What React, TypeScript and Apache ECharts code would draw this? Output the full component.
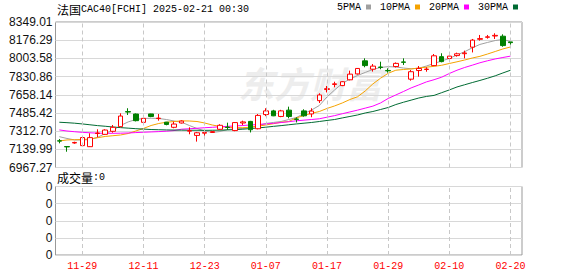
import React, { useEffect, useRef } from 'react';
import * as echarts from 'echarts';

const dates = ['11-26','11-27','11-28','11-29','12-02','12-03','12-04','12-05','12-06','12-09','12-10','12-11','12-12','12-13','12-16','12-17','12-18','12-19','12-20','12-23','12-24','12-27','12-30','12-31','01-02','01-03','01-06','01-07','01-08','01-09','01-10','01-13','01-14','01-15','01-16','01-17','01-20','01-21','01-22','01-23','01-24','01-27','01-28','01-29','01-30','01-31','02-03','02-04','02-05','02-06','02-07','02-10','02-11','02-12','02-13','02-14','02-17','02-18','02-19','02-20','02-21'];
const tickDates = ['11-29','12-11','12-23','01-07','01-17','01-29','02-10','02-20'];
const priceTicks = ['6967.27','7139.99','7312.70','7485.42','7658.14','7830.86','8003.58','8176.29','8349.01'];
const volTicks = ['0','0','0','0','0'];

// [open, close, low, high]
const candles = [
  [7221,7218,7197,7238],[7166,7163,7117,7166],[7200,7205,7193,7212],[7175,7252,7170,7262],
  [7165,7251,7162,7292],[7290,7295,7254,7330],[7282,7323,7278,7330],[7311,7349,7298,7371],
  [7355,7456,7352,7482],[7498,7494,7466,7530],[7475,7412,7405,7480],[7396,7434,7387,7466],
  [7476,7452,7445,7478],[7432,7436,7412,7475],[7398,7376,7368,7400],[7349,7380,7340,7402],
  [7390,7408,7385,7415],[7312,7318,7283,7349],[7272,7297,7213,7305],[7293,7300,7262,7305],
  [7300,7308,7296,7312],[7330,7368,7325,7378],[7351,7347,7324,7393],[7318,7394,7312,7398],
  [7390,7400,7370,7412],[7405,7326,7300,7410],[7335,7462,7330,7475],[7470,7505,7455,7530],
  [7505,7458,7455,7515],[7452,7505,7445,7515],[7512,7452,7434,7545],[7428,7424,7395,7444],
  [7505,7458,7450,7520],[7476,7503,7445,7530],[7602,7656,7580,7672],[7708,7716,7680,7741],
  [7756,7762,7729,7782],[7745,7782,7740,7786],[7800,7854,7795,7887],[7856,7908,7850,7912],
  [7980,7935,7919,8004],[7901,7930,7878,7950],[7921,7918,7900,7972],[7889,7885,7868,7909],
  [7926,7956,7917,7965],[7970,7966,7941,8004],[7806,7877,7792,7893],[7888,7908,7830,7931],
  [7898,7902,7877,7919],[7935,8028,7932,8045],[8020,7973,7966,8052],[8002,8025,7998,8030],
  [8030,8047,8020,8058],[8048,8055,8004,8077],[8110,8177,8060,8188],[8185,8191,8172,8226],
  [8204,8208,8191,8226],[8216,8222,8188,8242],[8214,8125,8114,8232],[8160,8153,8124,8185]
];

const ma5 = [7260,7243,7229,7229,7233,7254,7290,7319,7366,7400,7423,7433,7435,7433,7423,7409,7397,7366,7338,7314,7300,7309,7328,7335,7338,7347,7366,7385,7395,7404,7423,7442,7480,7514,7556,7637,7704,7765,7808,7841,7870,7898,7917,7925,7922,7912,7905,7910,7931,7955,7979,8003,8036,8067,8104,8136,8155,8173,8183,8164];
const ma10 = [7219,7229,7231,7233,7238,7250,7262,7269,7276,7290,7314,7338,7366,7385,7397,7404,7410,7409,7404,7390,7371,7357,7349,7346,7345,7350,7360,7371,7383,7397,7404,7438,7461,7482,7499,7528,7552,7580,7613,7639,7694,7761,7815,7862,7891,7898,7903,7912,7920,7928,7938,7955,7971,7988,8007,8023,8045,8069,8093,8112];
const ma20 = [7324,7314,7307,7301,7297,7293,7292,7292,7293,7295,7299,7302,7305,7308,7312,7318,7331,7335,7340,7345,7349,7354,7358,7362,7366,7371,7376,7381,7387,7394,7402,7411,7417,7423,7430,7445,7460,7478,7495,7512,7531,7550,7580,7623,7656,7689,7723,7751,7780,7801,7825,7860,7891,7917,7939,7962,7981,7998,8012,8025];
const ma30 = [7397,7393,7388,7381,7373,7365,7359,7352,7346,7341,7336,7332,7328,7326,7324,7323,7322,7321,7321,7320,7321,7322,7324,7327,7331,7337,7343,7350,7358,7365,7373,7381,7388,7395,7404,7414,7423,7438,7452,7466,7485,7499,7518,7537,7565,7587,7607,7627,7642,7652,7678,7704,7732,7753,7774,7794,7815,7838,7865,7891];
const volumes = [0,0,0,0,0,0,0,0,0,0,0,0,0,0,0,0,0,0,0,0,0,0,0,0,0,0,0,0,0,0,0,0,0,0,0,0,0,0,0,0,0,0,0,0,0,0,0,0,0,0,0,0,0,0,0,0,0,0,0,0];

const maDefs = [
  { name: '5PMA', data: ma5, color: '#a0a0a0' },
  { name: '10PMA', data: ma10, color: '#f5a300' },
  { name: '20PMA', data: ma20, color: '#ff00ff' },
  { name: '30PMA', data: ma30, color: '#006b33' },
];

const vLines = {
  silent: true,
  symbol: ['none', 'none'],
  label: { show: false },
  lineStyle: { type: [4, 3], color: '#c8c8c8', width: 1 },
  data: tickDates.map((d) => ({ xAxis: dates.indexOf(d) })),
};

export default function App() {
  const ref = useRef<HTMLDivElement>(null);
  useEffect(() => {
    if (!ref.current) return;
    const chart = echarts.init(ref.current, null, { renderer: 'svg' });
    const mono = 'Liberation Mono, DejaVu Sans Mono, monospace';
    const cjk = 'Noto Sans CJK SC';
    const option: any = {
      animation: false,
      backgroundColor: '#ffffff',
      grid: [
        { left: 55.5, top: 22, width: 466.5, height: 145.5, show: true, borderColor: '#999', borderWidth: 1 },
        { left: 55.5, top: 186.5, width: 466.5, height: 68.5, show: true, borderColor: '#999', borderWidth: 1 },
      ],
      legend: {
        data: maDefs.map((m) => m.name),
        left: 337,
        top: 2,
        padding: 0,
        align: 'right',
        icon: 'rect',
        itemWidth: 5,
        itemHeight: 5,
        itemGap: 9,
        selectedMode: false,
        textStyle: { fontFamily: mono, fontSize: 10, color: '#000' },
      },
      xAxis: [
        {
          type: 'category', gridIndex: 0, data: dates, boundaryGap: true,
          axisLine: { show: false }, axisTick: { show: false }, axisLabel: { show: false }, splitLine: { show: false },
        },
        {
          type: 'category', gridIndex: 1, data: dates, boundaryGap: true,
          axisLine: { show: false }, axisTick: { show: false }, splitLine: { show: false },
          axisLabel: {
            show: true,
            interval: (_i: number, v: string) => tickDates.includes(v),
            color: '#ff0000', fontFamily: mono, fontSize: 10, margin: 6,
          },
        },
      ],
      yAxis: [
        {
          type: 'value', gridIndex: 0, min: 0, max: 8, interval: 1,
          axisLine: { show: false }, axisTick: { show: false },
          axisLabel: { formatter: (v: number) => priceTicks[v], color: '#111', fontFamily: 'Liberation Sans, Arial', fontSize: 12, margin: 3 },
          splitLine: { show: true, lineStyle: { color: '#d8d8d8', width: 1 } },
        },
        { type: 'value', gridIndex: 0, min: 6967.27, max: 8349.01, show: false, splitLine: { show: false } },
        {
          type: 'value', gridIndex: 1, min: 0, max: 4, interval: 1,
          axisLine: { show: false }, axisTick: { show: false },
          axisLabel: { formatter: (v: number) => volTicks[v], color: '#111', fontFamily: 'Liberation Sans, Arial', fontSize: 12, margin: 3 },
          splitLine: { show: true, lineStyle: { color: '#d8d8d8', width: 1 } },
        },
      ],
      graphic: [
        {
          type: 'text', x: 238, y: 82, z: 0, silent: true,
          style: { text: '东方财富', fontFamily: cjk, fontSize: 36, fontWeight: 'bold', fontStyle: 'italic', fill: '#ededed', verticalAlign: 'middle' },
        },
        {
          type: 'text', x: 57, y: 9, z: 10,
          style: {
            text: '{a|法国}{b|CAC40[FCHI] 2025-02-21 00:30}', verticalAlign: 'middle',
            rich: { a: { fontFamily: cjk, fontSize: 12, fill: '#000' }, b: { fontFamily: mono, fontSize: 10, fill: '#000' } },
          },
        },
        {
          type: 'text', x: 57, y: 177, z: 10,
          style: {
            text: '{a|成交量}{b|:0}', verticalAlign: 'middle',
            rich: { a: { fontFamily: cjk, fontSize: 12, fill: '#000' }, b: { fontFamily: mono, fontSize: 10, fill: '#000' } },
          },
        },
      ],
      series: [
        ...maDefs.map((m) => ({
          name: m.name, type: 'line', xAxisIndex: 0, yAxisIndex: 1, data: m.data,
          showSymbol: false, symbol: 'none', z: 2,
          lineStyle: { color: m.color, width: 1 }, itemStyle: { color: m.color },
        })),
        {
          name: 'K', type: 'candlestick', xAxisIndex: 0, yAxisIndex: 1, data: candles, barWidth: 5, z: 3,
          itemStyle: { color: '#ffffff', color0: '#008000', borderColor: '#ff0000', borderColor0: '#008000', borderWidth: 1 },
          markLine: vLines,
        },
        {
          name: 'VOL', type: 'bar', xAxisIndex: 1, yAxisIndex: 2, data: volumes, barWidth: 5,
          itemStyle: { color: '#008000' }, markLine: vLines,
        },
      ],
    };
    chart.setOption(option);
    return () => chart.dispose();
  }, []);
  return <div ref={ref} style={{ position: 'fixed', left: 0, top: 0, width: 578, height: 276, background: '#fff' }} />;
}
